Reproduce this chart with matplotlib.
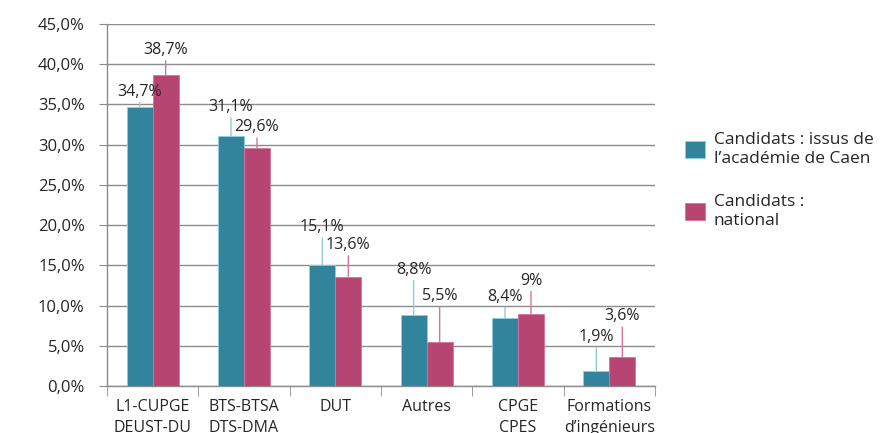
import matplotlib
matplotlib.use("Agg")
import matplotlib.pyplot as plt
import numpy as np
from matplotlib.patches import Patch

plt.rcParams['font.family'] = ['Open Sans', 'DejaVu Sans']

categories = ["L1-CUPGE\nDEUST-DU", "BTS-BTSA\nDTS-DMA", "DUT", "Autres", "CPGE\nCPES",
              "Formations\nd\u2019ingénieurs"]
caen = [34.7, 31.1, 15.1, 8.8, 8.4, 1.9]
national = [38.7, 29.6, 13.6, 5.5, 9.0, 3.6]
caen_labels = ["34,7%", "31,1%", "15,1%", "8,8%", "8,4%", "1,9%"]
national_labels = ["38,7%", "29,6%", "13,6%", "5,5%", "9%", "3,6%"]
series_names = ["Candidats : issus de\nl\u2019académie de Caen", "Candidats :\nnational"]
yticks = [0, 5, 10, 15, 20, 25, 30, 35, 40, 45]

# label offsets (points above bar top) - layout only
caen_off = [5, 15, 21, 27, 10, 18.5]
nat_off = [12, 9, 17, 27, 18, 23.5]

teal = "#31849B"
pink = "#B64571"
teal_line = "#92CDDC"
pink_line = "#D5739D"
txt = "#262626"

fig = plt.figure(figsize=(8.82, 4.33), dpi=100)
ax = fig.add_axes([0.1213, 0.1085, 0.6213, 0.8361])

x = np.arange(len(categories))
w = 0.285
ax.bar(x - w / 2, caen, w, color=teal, edgecolor=teal_line, linewidth=0.6, zorder=3)
ax.bar(x + w / 2, national, w, color=pink, edgecolor=pink_line, linewidth=0.6, zorder=3)

def annotate(xs, vals, labels, offs, lc):
    for xi, v, lab, off in zip(xs, vals, labels, offs):
        ax.annotate(lab, xy=(xi, v), xytext=(0, off), textcoords="offset points",
                    ha="center", va="bottom", fontsize=11.5, color=txt, zorder=5,
                    arrowprops=dict(arrowstyle="-", color=lc, lw=1.0, shrinkA=0, shrinkB=0,
                                    relpos=(0.5, 0.0)))

ax.set_xlim(-0.5, len(categories) - 0.5)
ax.set_ylim(0, 45)

annotate(x - w / 2, caen, caen_labels, caen_off, teal_line)
annotate(x + w / 2, national, national_labels, nat_off, pink_line)

ax.set_yticks(yticks)
ax.set_yticklabels([f"{t:.1f}".replace(".", ",") + "%" for t in yticks], fontsize=12, color=txt)
ax.yaxis.grid(True, color="#8C8C8C", linewidth=1.0, zorder=0)
ax.tick_params(axis="y", length=6, color="#8C8C8C", pad=10)

ax.set_xticks(x)
ax.set_xticklabels(categories, fontsize=11.5, color=txt, linespacing=1.45)
ax.set_xticks(np.arange(-0.5, len(categories) + 0.5, 1), minor=True)
ax.tick_params(axis="x", which="major", length=0, pad=9)
ax.tick_params(axis="x", which="minor", length=7, color="#8C8C8C")

for s in ["top", "right"]:
    ax.spines[s].set_visible(False)
for s in ["left", "bottom"]:
    ax.spines[s].set_color("#8C8C8C")
    ax.spines[s].set_linewidth(1.0)

handles = [Patch(facecolor=teal, edgecolor=teal_line, linewidth=0.6),
           Patch(facecolor=pink, edgecolor=pink_line, linewidth=0.6)]
fig.legend(handles, series_names, loc="center left", bbox_to_anchor=(0.777, 0.583),
           frameon=False, fontsize=12.5, handlelength=1.15, handleheight=1.15,
           handletextpad=0.5, labelspacing=1.6, labelcolor=txt, borderaxespad=0,
           borderpad=0)

fig.savefig("out.png", dpi=100)
